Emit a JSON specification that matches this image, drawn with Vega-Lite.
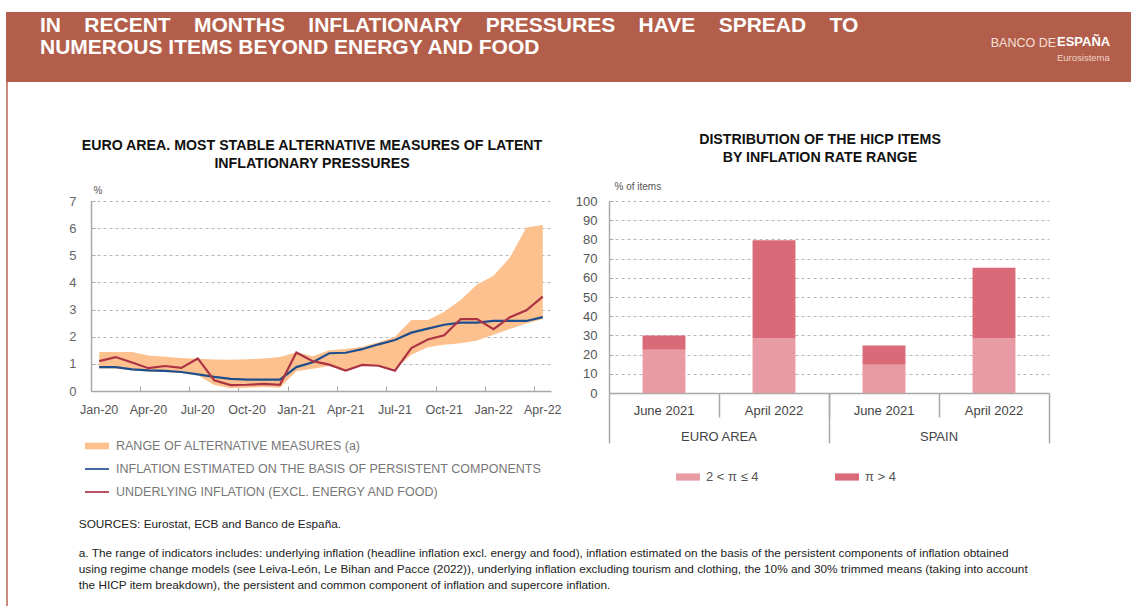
{
  "$schema": "https://vega.github.io/schema/vega-lite/v6.json",
  "background": "white",
  "padding": {"left": 6, "top": 12, "right": 0, "bottom": 0},
  "config": {
    "font": "Liberation Sans",
    "view": {"stroke": null},
    "axis": {"labelFont": "Liberation Sans", "titleFont": "Liberation Sans"},
    "legend": {"labelFont": "Liberation Sans"},
    "title": {"font": "Liberation Sans", "subtitleFont": "Liberation Sans"}
  },
  "datasets": {
    "empty": [],
    "band": [
      {"month": "Jan-20", "low": 0.83, "high": 1.44},
      {"month": "Feb-20", "low": 0.83, "high": 1.44},
      {"month": "Mar-20", "low": 0.76, "high": 1.44},
      {"month": "Apr-20", "low": 0.72, "high": 1.31},
      {"month": "May-20", "low": 0.70, "high": 1.26},
      {"month": "Jun-20", "low": 0.66, "high": 1.22},
      {"month": "Jul-20", "low": 0.58, "high": 1.19},
      {"month": "Aug-20", "low": 0.22, "high": 1.16},
      {"month": "Sep-20", "low": 0.10, "high": 1.15},
      {"month": "Oct-20", "low": 0.12, "high": 1.17},
      {"month": "Nov-20", "low": 0.15, "high": 1.20},
      {"month": "Dec-20", "low": 0.12, "high": 1.25},
      {"month": "Jan-21", "low": 0.73, "high": 1.43},
      {"month": "Feb-21", "low": 0.82, "high": 1.28},
      {"month": "Mar-21", "low": 0.92, "high": 1.50},
      {"month": "Apr-21", "low": 0.80, "high": 1.55},
      {"month": "May-21", "low": 0.93, "high": 1.63},
      {"month": "Jun-21", "low": 0.92, "high": 1.80},
      {"month": "Jul-21", "low": 0.82, "high": 2.00},
      {"month": "Aug-21", "low": 1.34, "high": 2.62},
      {"month": "Sep-21", "low": 1.61, "high": 2.62},
      {"month": "Oct-21", "low": 1.70, "high": 2.92},
      {"month": "Nov-21", "low": 1.76, "high": 3.35},
      {"month": "Dec-21", "low": 1.86, "high": 3.92},
      {"month": "Jan-22", "low": 2.07, "high": 4.25},
      {"month": "Feb-22", "low": 2.28, "high": 4.92},
      {"month": "Mar-22", "low": 2.49, "high": 6.02},
      {"month": "Apr-22", "low": 2.65, "high": 6.12}
    ],
    "lines": [
      {"month": "Jan-20", "series": "INFLATION ESTIMATED ON THE BASIS OF PERSISTENT COMPONENTS", "value": 0.88},
      {"month": "Feb-20", "series": "INFLATION ESTIMATED ON THE BASIS OF PERSISTENT COMPONENTS", "value": 0.88},
      {"month": "Mar-20", "series": "INFLATION ESTIMATED ON THE BASIS OF PERSISTENT COMPONENTS", "value": 0.80},
      {"month": "Apr-20", "series": "INFLATION ESTIMATED ON THE BASIS OF PERSISTENT COMPONENTS", "value": 0.76},
      {"month": "May-20", "series": "INFLATION ESTIMATED ON THE BASIS OF PERSISTENT COMPONENTS", "value": 0.74},
      {"month": "Jun-20", "series": "INFLATION ESTIMATED ON THE BASIS OF PERSISTENT COMPONENTS", "value": 0.70},
      {"month": "Jul-20", "series": "INFLATION ESTIMATED ON THE BASIS OF PERSISTENT COMPONENTS", "value": 0.61},
      {"month": "Aug-20", "series": "INFLATION ESTIMATED ON THE BASIS OF PERSISTENT COMPONENTS", "value": 0.52},
      {"month": "Sep-20", "series": "INFLATION ESTIMATED ON THE BASIS OF PERSISTENT COMPONENTS", "value": 0.45},
      {"month": "Oct-20", "series": "INFLATION ESTIMATED ON THE BASIS OF PERSISTENT COMPONENTS", "value": 0.42},
      {"month": "Nov-20", "series": "INFLATION ESTIMATED ON THE BASIS OF PERSISTENT COMPONENTS", "value": 0.42},
      {"month": "Dec-20", "series": "INFLATION ESTIMATED ON THE BASIS OF PERSISTENT COMPONENTS", "value": 0.42},
      {"month": "Jan-21", "series": "INFLATION ESTIMATED ON THE BASIS OF PERSISTENT COMPONENTS", "value": 0.88},
      {"month": "Feb-21", "series": "INFLATION ESTIMATED ON THE BASIS OF PERSISTENT COMPONENTS", "value": 1.06},
      {"month": "Mar-21", "series": "INFLATION ESTIMATED ON THE BASIS OF PERSISTENT COMPONENTS", "value": 1.39},
      {"month": "Apr-21", "series": "INFLATION ESTIMATED ON THE BASIS OF PERSISTENT COMPONENTS", "value": 1.41},
      {"month": "May-21", "series": "INFLATION ESTIMATED ON THE BASIS OF PERSISTENT COMPONENTS", "value": 1.54},
      {"month": "Jun-21", "series": "INFLATION ESTIMATED ON THE BASIS OF PERSISTENT COMPONENTS", "value": 1.72},
      {"month": "Jul-21", "series": "INFLATION ESTIMATED ON THE BASIS OF PERSISTENT COMPONENTS", "value": 1.88},
      {"month": "Aug-21", "series": "INFLATION ESTIMATED ON THE BASIS OF PERSISTENT COMPONENTS", "value": 2.15},
      {"month": "Sep-21", "series": "INFLATION ESTIMATED ON THE BASIS OF PERSISTENT COMPONENTS", "value": 2.30},
      {"month": "Oct-21", "series": "INFLATION ESTIMATED ON THE BASIS OF PERSISTENT COMPONENTS", "value": 2.44},
      {"month": "Nov-21", "series": "INFLATION ESTIMATED ON THE BASIS OF PERSISTENT COMPONENTS", "value": 2.52},
      {"month": "Dec-21", "series": "INFLATION ESTIMATED ON THE BASIS OF PERSISTENT COMPONENTS", "value": 2.52},
      {"month": "Jan-22", "series": "INFLATION ESTIMATED ON THE BASIS OF PERSISTENT COMPONENTS", "value": 2.58},
      {"month": "Feb-22", "series": "INFLATION ESTIMATED ON THE BASIS OF PERSISTENT COMPONENTS", "value": 2.58},
      {"month": "Mar-22", "series": "INFLATION ESTIMATED ON THE BASIS OF PERSISTENT COMPONENTS", "value": 2.58},
      {"month": "Apr-22", "series": "INFLATION ESTIMATED ON THE BASIS OF PERSISTENT COMPONENTS", "value": 2.72},
      {"month": "Jan-20", "series": "UNDERLYING INFLATION (EXCL. ENERGY AND FOOD)", "value": 1.10},
      {"month": "Feb-20", "series": "UNDERLYING INFLATION (EXCL. ENERGY AND FOOD)", "value": 1.25},
      {"month": "Mar-20", "series": "UNDERLYING INFLATION (EXCL. ENERGY AND FOOD)", "value": 1.05},
      {"month": "Apr-20", "series": "UNDERLYING INFLATION (EXCL. ENERGY AND FOOD)", "value": 0.84},
      {"month": "May-20", "series": "UNDERLYING INFLATION (EXCL. ENERGY AND FOOD)", "value": 0.92},
      {"month": "Jun-20", "series": "UNDERLYING INFLATION (EXCL. ENERGY AND FOOD)", "value": 0.85},
      {"month": "Jul-20", "series": "UNDERLYING INFLATION (EXCL. ENERGY AND FOOD)", "value": 1.20},
      {"month": "Aug-20", "series": "UNDERLYING INFLATION (EXCL. ENERGY AND FOOD)", "value": 0.39},
      {"month": "Sep-20", "series": "UNDERLYING INFLATION (EXCL. ENERGY AND FOOD)", "value": 0.22},
      {"month": "Oct-20", "series": "UNDERLYING INFLATION (EXCL. ENERGY AND FOOD)", "value": 0.23},
      {"month": "Nov-20", "series": "UNDERLYING INFLATION (EXCL. ENERGY AND FOOD)", "value": 0.26},
      {"month": "Dec-20", "series": "UNDERLYING INFLATION (EXCL. ENERGY AND FOOD)", "value": 0.23},
      {"month": "Jan-21", "series": "UNDERLYING INFLATION (EXCL. ENERGY AND FOOD)", "value": 1.42},
      {"month": "Feb-21", "series": "UNDERLYING INFLATION (EXCL. ENERGY AND FOOD)", "value": 1.10},
      {"month": "Mar-21", "series": "UNDERLYING INFLATION (EXCL. ENERGY AND FOOD)", "value": 0.97},
      {"month": "Apr-21", "series": "UNDERLYING INFLATION (EXCL. ENERGY AND FOOD)", "value": 0.75},
      {"month": "May-21", "series": "UNDERLYING INFLATION (EXCL. ENERGY AND FOOD)", "value": 0.96},
      {"month": "Jun-21", "series": "UNDERLYING INFLATION (EXCL. ENERGY AND FOOD)", "value": 0.93},
      {"month": "Jul-21", "series": "UNDERLYING INFLATION (EXCL. ENERGY AND FOOD)", "value": 0.75},
      {"month": "Aug-21", "series": "UNDERLYING INFLATION (EXCL. ENERGY AND FOOD)", "value": 1.58},
      {"month": "Sep-21", "series": "UNDERLYING INFLATION (EXCL. ENERGY AND FOOD)", "value": 1.90},
      {"month": "Oct-21", "series": "UNDERLYING INFLATION (EXCL. ENERGY AND FOOD)", "value": 2.05},
      {"month": "Nov-21", "series": "UNDERLYING INFLATION (EXCL. ENERGY AND FOOD)", "value": 2.65},
      {"month": "Dec-21", "series": "UNDERLYING INFLATION (EXCL. ENERGY AND FOOD)", "value": 2.65},
      {"month": "Jan-22", "series": "UNDERLYING INFLATION (EXCL. ENERGY AND FOOD)", "value": 2.28},
      {"month": "Feb-22", "series": "UNDERLYING INFLATION (EXCL. ENERGY AND FOOD)", "value": 2.72},
      {"month": "Mar-22", "series": "UNDERLYING INFLATION (EXCL. ENERGY AND FOOD)", "value": 2.97},
      {"month": "Apr-22", "series": "UNDERLYING INFLATION (EXCL. ENERGY AND FOOD)", "value": 3.48}
    ],
    "bars": [
      {"region": "EURO AREA", "period": "June 2021", "key": "EA|June 2021", "range": "2 < π ≤ 4", "value": 22.5},
      {"region": "EURO AREA", "period": "June 2021", "key": "EA|June 2021", "range": "π > 4", "value": 7.5},
      {"region": "EURO AREA", "period": "April 2022", "key": "EA|April 2022", "range": "2 < π ≤ 4", "value": 28.5},
      {"region": "EURO AREA", "period": "April 2022", "key": "EA|April 2022", "range": "π > 4", "value": 51.0},
      {"region": "SPAIN", "period": "June 2021", "key": "ES|June 2021", "range": "2 < π ≤ 4", "value": 14.7},
      {"region": "SPAIN", "period": "June 2021", "key": "ES|June 2021", "range": "π > 4", "value": 10.0},
      {"region": "SPAIN", "period": "April 2022", "key": "ES|April 2022", "range": "2 < π ≤ 4", "value": 28.5},
      {"region": "SPAIN", "period": "April 2022", "key": "ES|April 2022", "range": "π > 4", "value": 36.7}
    ]
  },
  "spacing": 0,
  "vconcat": [
    {
      "spacing": 0,
      "hconcat": [
        {
          "data": {"name": "empty"},
          "mark": "point",
          "width": 900,
          "height": 70,
          "view": {"fill": "#b35e4a", "stroke": null},
          "title": {
            "text": ["IN\u00a0\u00a0\u00a0 RECENT\u00a0\u00a0\u00a0 MONTHS\u00a0\u00a0\u00a0 INFLATIONARY\u00a0\u00a0\u00a0 PRESSURES\u00a0\u00a0\u00a0 HAVE\u00a0\u00a0\u00a0 SPREAD\u00a0\u00a0\u00a0 TO", "NUMEROUS ITEMS BEYOND ENERGY AND FOOD"],
            "anchor": "start",
            "orient": "top",
            "offset": -46,
            "dx": 34,
            "fontSize": 21,
            "lineHeight": 22,
            "fontWeight": "bold",
            "color": "white"
          }
        },
        {
          "data": {"name": "empty"},
          "mark": "point",
          "width": 150,
          "height": 70,
          "view": {"fill": "#b35e4a", "stroke": null},
          "title": {
            "text": "BANCO DE",
            "anchor": "end",
            "orient": "top",
            "offset": -37,
            "fontSize": 12.5,
            "fontWeight": "normal",
            "color": "#f5e0d9"
          }
        },
        {
          "data": {"name": "empty"},
          "mark": "point",
          "width": 75,
          "height": 70,
          "view": {"fill": "#b35e4a", "stroke": null},
          "title": {
            "text": "ESPAÑA",
            "subtitle": "Eurosistema",
            "anchor": "start",
            "orient": "top",
            "offset": -50,
            "dx": 1,
            "fontSize": 13,
            "fontWeight": "bold",
            "color": "white",
            "subtitleFontSize": 9.5,
            "subtitleColor": "#f0d4cb",
            "subtitlePadding": 4
          }
        }
      ]
    },
    {
      "spacing": 60,
      "hconcat": [
        {
          "data": {"name": "empty"},
          "mark": "point",
          "width": 2,
          "height": 524,
          "view": {"fill": "#c98b7d", "stroke": null}
        },
        {
          "spacing": 0,
          "title": {
            "text": "SOURCES: Eurostat, ECB and Banco de España.",
            "subtitle": [
              "a. The range of indicators includes: underlying inflation (headline inflation excl. energy and food), inflation estimated on the basis of the persistent components of inflation obtained",
              "using regime change models (see Leiva-León, Le Bihan and Pacce (2022)), underlying inflation excluding tourism and clothing, the 10% and 30% trimmed means (taking into account",
              "the HICP item breakdown), the persistent and common component of inflation and supercore inflation."
            ],
            "orient": "bottom",
            "anchor": "start",
            "offset": 20,
            "dx": 10,
            "fontSize": 11.8,
            "fontWeight": "normal",
            "color": "#222",
            "subtitleFontSize": 11.8,
            "subtitleColor": "#222",
            "subtitlePadding": 17,
            "subtitleLineHeight": 16
          },
          "vconcat": [
            {"data": {"name": "empty"}, "mark": "point", "width": 1, "height": 50},
            {
              "spacing": 13,
              "resolve": {"scale": {"color": "independent"}, "legend": {"color": "independent"}},
              "hconcat": [
                {
                  "width": 460,
                  "height": 190,
                  "title": {
                    "text": ["EURO AREA. MOST STABLE ALTERNATIVE MEASURES OF LATENT", "INFLATIONARY PRESSURES"],
                    "fontSize": 14.2,
                    "lineHeight": 18,
                    "fontWeight": "bold",
                    "color": "#111",
                    "offset": 14,
                    "dx": -9,
                    "anchor": "middle"
                  },
                  "layer": [
                    {
                      "data": {"name": "band"},
                      "mark": {"type": "area"},
                      "encoding": {
                        "x": {
                          "field": "month", "type": "ordinal", "bandPosition": 0.5,
                          "scale": {"type": "band", "paddingInner": 0, "paddingOuter": 0,
                            "domain": ["Jan-20","Feb-20","Mar-20","Apr-20","May-20","Jun-20","Jul-20","Aug-20","Sep-20","Oct-20","Nov-20","Dec-20","Jan-21","Feb-21","Mar-21","Apr-21","May-21","Jun-21","Jul-21","Aug-21","Sep-21","Oct-21","Nov-21","Dec-21","Jan-22","Feb-22","Mar-22","Apr-22"]},
                          "axis": {
                            "values": ["Jan-20","Apr-20","Jul-20","Oct-20","Jan-21","Apr-21","Jul-21","Oct-21","Jan-22","Apr-22"],
                            "bandPosition": 0,
                            "tickSize": -5,
                            "labelPadding": 17,
                            "labelAngle": 0,
                            "labelFontSize": 12.5,
                            "labelColor": "#555",
                            "labelOverlap": false,
                            "title": null,
                            "grid": false,
                            "domainColor": "#a8a8a8",
                            "domainWidth": 1.5,
                            "tickColor": "#a8a8a8"
                          }
                        },
                        "y": {
                          "field": "low", "type": "quantitative",
                          "scale": {"domain": [0, 7], "nice": false},
                          "axis": {
                            "values": [0,1,2,3,4,5,6,7],
                            "grid": true,
                            "gridDash": [3, 3],
                            "gridColor": "#b8b8b8",
                            "domainColor": "#a8a8a8",
                            "domainWidth": 1.5,
                            "tickColor": "#a8a8a8",
                            "tickSize": -4,
                            "labelPadding": 19,
                            "labelFontSize": 13,
                            "labelColor": "#666",
                            "labelOverlap": false,
                            "title": "%",
                            "titleAngle": 0,
                            "titleAlign": "left",
                            "titleBaseline": "alphabetic",
                            "titleX": 2,
                            "titleY": -8,
                            "titleFontSize": 10,
                            "titleFontWeight": "normal",
                            "titleColor": "#555"
                          }
                        },
                        "y2": {"field": "high"},
                        "color": {
                          "datum": "RANGE OF ALTERNATIVE MEASURES (a)",
                          "type": "nominal",
                          "scale": {
                            "domain": ["RANGE OF ALTERNATIVE MEASURES (a)", "INFLATION ESTIMATED ON THE BASIS OF PERSISTENT COMPONENTS", "UNDERLYING INFLATION (EXCL. ENERGY AND FOOD)"],
                            "range": ["#fcc18f", "#1f4e8d", "#ab3343"]
                          },
                          "legend": {
                            "orient": "none",
                            "legendX": -6,
                            "legendY": 233,
                            "direction": "vertical",
                            "title": null,
                            "symbolSize": 576,
                            "symbolType": "M-1,-0.3H1V0.3H-1Z",
                            "labelFontSize": 12.5,
                            "labelColor": "#777",
                            "labelOffset": 7,
                            "labelLimit": 600,
                            "rowPadding": 4,
                            "encode": {
                              "symbols": {
                                "update": {
                                  "shape": {"signal": "datum.value === 'RANGE OF ALTERNATIVE MEASURES (a)' ? 'M-1,-0.28H1V0.28H-1Z' : 'M-1,-0.07H1V0.07H-1Z'"},
                                  "fill": {"scale": "color", "field": "value"},
                                  "stroke": {"value": "transparent"},
                                  "strokeWidth": {"value": 0},
                                  "opacity": {"value": 1}
                                }
                              }
                            }
                          }
                        }
                      }
                    },
                    {
                      "data": {"name": "lines"},
                      "mark": {"type": "line", "strokeWidth": 2.2},
                      "encoding": {
                        "x": {"field": "month", "type": "ordinal", "bandPosition": 0.5},
                        "y": {
                          "field": "value", "type": "quantitative",
                          "axis": {
                            "values": [0,1,2,3,4,5,6,7],
                            "grid": true,
                            "gridDash": [3, 3],
                            "gridColor": "#b8b8b8",
                            "domainColor": "#a8a8a8",
                            "domainWidth": 1.5,
                            "tickColor": "#a8a8a8",
                            "tickSize": -4,
                            "labelPadding": 19,
                            "labelFontSize": 13,
                            "labelColor": "#666",
                            "labelOverlap": false,
                            "title": "%",
                            "titleAngle": 0,
                            "titleAlign": "left",
                            "titleBaseline": "alphabetic",
                            "titleX": 2,
                            "titleY": -8,
                            "titleFontSize": 10,
                            "titleFontWeight": "normal",
                            "titleColor": "#555"
                          }
                        },
                        "color": {
                          "field": "series", "type": "nominal",
                          "legend": {
                            "orient": "none",
                            "legendX": -6,
                            "legendY": 233,
                            "direction": "vertical",
                            "title": null,
                            "symbolSize": 576,
                            "symbolType": "M-1,-0.3H1V0.3H-1Z",
                            "labelFontSize": 12.5,
                            "labelColor": "#777",
                            "labelOffset": 7,
                            "labelLimit": 600,
                            "rowPadding": 4,
                            "encode": {
                              "symbols": {
                                "update": {
                                  "shape": {"signal": "datum.value === 'RANGE OF ALTERNATIVE MEASURES (a)' ? 'M-1,-0.28H1V0.28H-1Z' : 'M-1,-0.07H1V0.07H-1Z'"},
                                  "fill": {"scale": "color", "field": "value"},
                                  "stroke": {"value": "transparent"},
                                  "strokeWidth": {"value": 0},
                                  "opacity": {"value": 1}
                                }
                              }
                            }
                          }
                        }
                      }
                    }
                  ]
                },
                {
                  "width": 440,
                  "height": 192,
                  "data": {"name": "bars"},
                  "title": {
                    "text": ["DISTRIBUTION OF THE HICP ITEMS", "BY INFLATION RATE RANGE"],
                    "fontSize": 14.2,
                    "lineHeight": 18,
                    "fontWeight": "bold",
                    "color": "#111",
                    "offset": 16,
                    "dx": -9,
                    "anchor": "middle"
                  },
                  "resolve": {"scale": {"x": "independent"}},
                  "layer": [
                    {
                      "mark": {"type": "bar", "width": {"band": 0.39}},
                      "encoding": {
                        "x": {
                          "field": "key", "type": "nominal",
                          "scale": {"type": "band", "paddingInner": 0, "paddingOuter": 0, "domain": ["EA|June 2021", "EA|April 2022", "ES|June 2021", "ES|April 2022"]},
                          "axis": {
                            "orient": "bottom",
                            "values": ["EA|June 2021", "EA|April 2022", "ES|June 2021", "ES|April 2022"],
                            "bandPosition": 0,
                            "tickSize": {"condition": {"test": "datum.value === 'EA|June 2021'", "value": 50}, "value": 24},
                            "labelPadding": {"condition": {"test": "datum.value === 'EA|June 2021'", "value": -39}, "value": -13},
                            "labelExpr": "slice(datum.value, 3)",
                            "labelAngle": 0,
                            "labelFontSize": 13,
                            "labelColor": "#444",
                            "labelOverlap": false,
                            "title": null,
                            "grid": false,
                            "domainColor": "#a8a8a8",
                            "domainWidth": 1.5,
                            "tickColor": "#a8a8a8",
                            "tickWidth": 1.5
                          }
                        },
                        "y": {
                          "field": "value", "type": "quantitative", "stack": "zero",
                          "scale": {"domain": [0, 100], "nice": false},
                          "axis": {
                            "values": [0,10,20,30,40,50,60,70,80,90,100],
                            "grid": true,
                            "gridDash": [3, 3],
                            "gridColor": "#b8b8b8",
                            "domainColor": "#a8a8a8",
                            "domainWidth": 1.5,
                            "tickColor": "#a8a8a8",
                            "tickSize": -4,
                            "labelPadding": 16,
                            "labelFontSize": 13,
                            "labelColor": "#555",
                            "labelOverlap": false,
                            "title": "% of items",
                            "titleAngle": 0,
                            "titleAlign": "left",
                            "titleBaseline": "alphabetic",
                            "titleX": 5,
                            "titleY": -12,
                            "titleFontSize": 10,
                            "titleFontWeight": "normal",
                            "titleColor": "#555"
                          }
                        },
                        "order": {"field": "range", "sort": "ascending"},
                        "color": {
                          "field": "range", "type": "nominal",
                          "scale": {"domain": ["2 < π ≤ 4", "π > 4"], "range": ["#e89ba3", "#da6a77"]},
                          "legend": {
                            "orient": "none",
                            "legendX": 67,
                            "legendY": 264,
                            "direction": "horizontal",
                            "title": null,
                            "symbolType": "M-1,-0.3H1V0.3H-1Z",
                            "symbolSize": 576,
                            "symbolStrokeWidth": 0,
                            "labelFontSize": 13,
                            "labelColor": "#555",
                            "labelOffset": 6,
                            "columnPadding": 76
                          }
                        }
                      }
                    },
                    {
                      "mark": {"type": "point", "opacity": 0},
                      "encoding": {
                        "x": {
                          "field": "key", "type": "nominal",
                          "scale": {"type": "band", "paddingInner": 0, "paddingOuter": 0, "domain": ["EA|June 2021", "EA|April 2022", "ES|June 2021", "ES|April 2022"]},
                          "axis": {
                            "orient": "bottom",
                            "values": ["EA|April 2022", "ES|April 2022"],
                            "bandPosition": 1,
                            "tickSize": 50,
                            "labelPadding": -13,
                            "labelOffset": -55,
                            "labelExpr": "slice(datum.value, 0, 2) === 'EA' ? 'EURO AREA' : 'SPAIN'",
                            "labelAngle": 0,
                            "labelFontSize": 13,
                            "labelColor": "#444",
                            "labelOverlap": false,
                            "title": null,
                            "grid": false,
                            "domain": false,
                            "tickColor": "#a8a8a8",
                            "tickWidth": 1.5
                          }
                        },
                        "y": {
                          "field": "value", "type": "quantitative",
                          "axis": {
                            "values": [0,10,20,30,40,50,60,70,80,90,100],
                            "grid": true,
                            "gridDash": [3, 3],
                            "gridColor": "#b8b8b8",
                            "domainColor": "#a8a8a8",
                            "domainWidth": 1.5,
                            "tickColor": "#a8a8a8",
                            "tickSize": -4,
                            "labelPadding": 16,
                            "labelFontSize": 13,
                            "labelColor": "#555",
                            "labelOverlap": false,
                            "title": "% of items",
                            "titleAngle": 0,
                            "titleAlign": "left",
                            "titleBaseline": "alphabetic",
                            "titleX": 5,
                            "titleY": -12,
                            "titleFontSize": 10,
                            "titleFontWeight": "normal",
                            "titleColor": "#555"
                          }
                        }
                      }
                    }
                  ]
                }
              ]
            }
          ]
        }
      ]
    }
  ]
}
